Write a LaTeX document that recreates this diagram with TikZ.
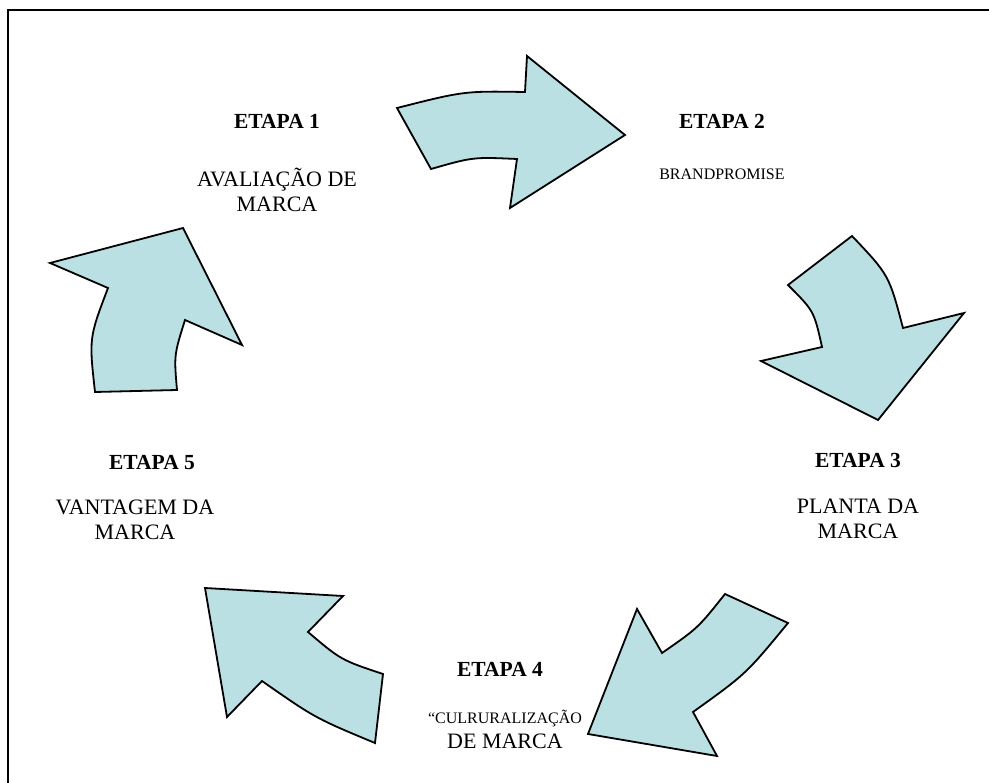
\documentclass[tikz,border=0pt]{standalone}
\usepackage{fontspec}
\setmainfont{Liberation Serif}
\usetikzlibrary{positioning}

\definecolor{arrowfill}{RGB}{187,224,227}

\begin{document}
\begin{tikzpicture}[x=1pt, y=-1pt, inner sep=0pt,
        title/.style={font=\bfseries\fontsize{21.5}{25}\selectfont, anchor=base},
        desc/.style={font=\fontsize{22}{25}\selectfont, align=center, anchor=base},
        smalldesc/.style={font=\fontsize{16}{25}\selectfont, align=center, anchor=base},
        cyclearrow/.style={draw, fill=arrowfill, line width=1.8pt, line join=miter}]
        \useasboundingbox (0,0) rectangle (989,783);
        \draw[line width=2pt] (8,783) -- (8,10) -- (989,10);

        % arrows of the cycle
        \draw[cyclearrow] (397,108) .. controls (464,91) .. (525,92) -- (527,56) -- (625,135)
            -- (510,208) -- (517,159) .. controls (473,157) .. (431,169) -- cycle;
        \draw[cyclearrow] (852,236) -- (788,285) .. controls (814,311) .. (822,347) -- (761,361)
            -- (878,420) -- (964,313) -- (903,328) .. controls (889,275) .. (852,236) -- cycle;
        \draw[cyclearrow] (637,609) -- (662,653) .. controls (698,628) .. (725,594) -- (788,623)
            .. controls (746,674) .. (693,712) -- (717,756) -- (588,734) -- cycle;
        \draw[cyclearrow] (205,588) -- (343,596) -- (308,632) .. controls (341,660) .. (383,674)
            -- (375,743) .. controls (315,718) .. (262,681) -- (227,717) -- cycle;
        \draw[cyclearrow] (50,263) -- (183,228) -- (242,345) -- (185,320) .. controls (174,355) .. (177,390)
            -- (95,392) .. controls (89,338) .. (108,288) -- cycle;

        % stages
        \node[title] (etapa1) at (277,129) {ETAPA 1};
        \node[desc] (desc1) [below=83pt of etapa1.base, anchor=base] {AVALIAÇÃO DE\\MARCA};
        \node[title] (etapa2) at (722,129) {ETAPA 2};
        \node[smalldesc] (desc2) [below=51pt of etapa2.base, anchor=base] {BRANDPROMISE};
        \node[title] (etapa3) at (858,468) {ETAPA 3};
        \node[desc] (desc3) [below=71pt of etapa3.base, anchor=base] {PLANTA DA\\MARCA};
        \node[title] (etapa4) at (500,676) {ETAPA 4};
        \node[desc] (desc4) [below=72pt of etapa4.base, anchor=base, xshift=5pt]
            {{\fontsize{16}{25}\selectfont “CULRURALIZAÇÃO}\\DE MARCA};
        \node[title] (etapa5) at (152,470) {ETAPA 5};
        \node[desc] (desc5) [below=70pt of etapa5.base, anchor=base, xshift=-17pt] {VANTAGEM DA\\MARCA};

        \end{tikzpicture}
\end{document}
